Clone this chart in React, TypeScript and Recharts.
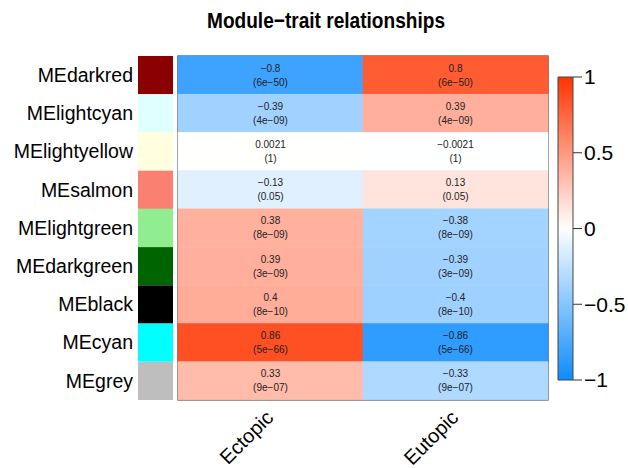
import { BarChart, Bar, XAxis, YAxis, ReferenceArea } from "recharts"

const modules = [
    "MEdarkred",
    "MElightcyan",
    "MElightyellow",
    "MEsalmon",
    "MElightgreen",
    "MEdarkgreen",
    "MEblack",
    "MEcyan",
    "MEgrey",
]
const moduleColors = [
    "#8B0000",
    "#E0FFFF",
    "#FFFFE0",
    "#FA8072",
    "#90EE90",
    "#006400",
    "#000000",
    "#00FFFF",
    "#BEBEBE",
]
const traits = ["Ectopic", "Eutopic"]
const ectopicCor = [-0.8, -0.39, 0.0021, -0.13, 0.38, 0.39, 0.4, 0.86, 0.33]
const eutopicCor = [0.8, 0.39, -0.0021, 0.13, -0.38, -0.39, -0.4, -0.86, -0.33]
const ectopicP = ["6e-50", "4e-09", "1", "0.05", "8e-09", "3e-09", "8e-10", "5e-66", "9e-07"]
const eutopicP = ["6e-50", "4e-09", "1", "0.05", "8e-09", "3e-09", "8e-10", "5e-66", "9e-07"]
const scaleTicks = [-1, -0.5, 0, 0.5, 1]

const corTable = [ectopicCor, eutopicCor]
const pTable = [ectopicP, eutopicP]

// one unit per cell, the two traits stacked side by side
const heatData = modules.map((m) => ({ module: m, Ectopic: 1, Eutopic: 1 }))
const scaleData = [{ name: "scale", range: [-1, 1] }]

const PLOT_TOP = 56
const PLOT_BOTTOM = 400
const ROW_H = (PLOT_BOTTOM - PLOT_TOP) / modules.length

const BLUE = [13, 140, 255]
const RED = [255, 51, 0]

// WGCNA blueWhiteRed style
function corColor(r: number) {
    const end = r < 0 ? BLUE : RED
    const t = Math.min(1, Math.abs(r))
    const c = end.map((v) => Math.round(255 + (v - 255) * t))
    return `rgb(${c[0]},${c[1]},${c[2]})`
}

const minus = (s: string) => s.replace(/-/g, "\u2212")

function cellShape(col: number) {
    return (props: any) => {
        const { x, y, width, height, index } = props
        const r = corTable[col][index]
        const cx = x + width / 2
        const cy = y + height / 2
        const fill = corColor(r)
        return (
            <g>
                <rect x={x} y={y} width={width} height={height} fill={fill} stroke={fill} strokeWidth={0.6} />
                <text x={cx} y={cy - 7} dy="0.35em" textAnchor="middle" fontSize={10} fill="#222">
                    {minus(String(r))}
                </text>
                <text x={cx} y={cy + 7} dy="0.35em" textAnchor="middle" fontSize={10} fill="#222">
                    ({minus(pTable[col][index])})
                </text>
            </g>
        )
    }
}

function ModuleTick(props: any) {
    const { x, y, payload, index } = props
    return (
        <g>
            <text x={x - 45} y={y} dy="0.35em" textAnchor="end" fontSize={19.5} fill="#000">
                {payload.value}
            </text>
            <rect x={x - 40} y={y - ROW_H / 2} width={35} height={ROW_H} fill={moduleColors[index]} />
        </g>
    )
}

function TraitTick(props: any) {
    const { x, y, payload } = props
    const px = x + 4
    const py = y + 19
    return (
        <text
            x={px}
            y={py}
            textAnchor="end"
            fontSize={20}
            fill="#000"
            transform={`rotate(-45 ${px} ${py})`}
        >
            {traits[Math.floor(payload.value)]}
        </text>
    )
}

export default function App() {
    return (
        <div
            style={{
                position: "absolute",
                left: 0,
                top: 0,
                width: 628,
                height: 468,
                background: "#fff",
                fontFamily: "'Liberation Sans', Arial, sans-serif",
            }}
        >
            <svg width={628} height={40} style={{ position: "absolute", left: 0, top: 0 }}>
                <text
                    x={207}
                    y={28}
                    fontSize={22.5}
                    fontWeight="bold"
                    fill="#000"
                    textLength={238}
                    lengthAdjust="spacingAndGlyphs"
                >
                    {"Module\u2212trait relationships"}
                </text>
            </svg>

            <div style={{ position: "absolute", left: 0, top: 0 }}>
                <BarChart
                    width={628}
                    height={468}
                    data={heatData}
                    layout="vertical"
                    barCategoryGap={0}
                    barGap={0}
                    margin={{ top: PLOT_TOP, right: 80, bottom: 8, left: 8 }}
                >
                    <XAxis
                        type="number"
                        domain={[0, 2]}
                        ticks={[0.5, 1.5]}
                        axisLine={false}
                        tickLine={false}
                        tickSize={0}
                        tickMargin={0}
                        height={60}
                        interval={0}
                        tick={<TraitTick />}
                    />
                    <YAxis
                        type="category"
                        dataKey="module"
                        width={170}
                        axisLine={false}
                        tickLine={false}
                        tickSize={0}
                        tickMargin={0}
                        interval={0}
                        tick={<ModuleTick />}
                    />
                    <Bar dataKey="Ectopic" stackId="h" isAnimationActive={false} shape={cellShape(0)} />
                    <Bar dataKey="Eutopic" stackId="h" isAnimationActive={false} shape={cellShape(1)} />
                    <ReferenceArea x1={0} x2={2} fill="none" stroke="#2b2b2b" strokeWidth={1.2} ifOverflow="visible" />
                </BarChart>
            </div>

            <div style={{ position: "absolute", left: 540, top: 60 }}>
                <BarChart
                    width={88}
                    height={340}
                    data={scaleData}
                    barCategoryGap={0}
                    margin={{ top: 17, right: 0, bottom: 20, left: 18 }}
                >
                    <defs>
                        <linearGradient id="cbGrad" x1="0" y1="0" x2="0" y2="1">
                            <stop offset="0%" stopColor="#FF3300" />
                            <stop offset="50%" stopColor="#FFFFFF" />
                            <stop offset="100%" stopColor="#0D8CFF" />
                        </linearGradient>
                    </defs>
                    <XAxis dataKey="name" hide />
                    <YAxis
                        orientation="right"
                        type="number"
                        domain={[-1, 1]}
                        ticks={scaleTicks}
                        width={55}
                        axisLine={false}
                        tickSize={9}
                        tickMargin={2}
                        tickLine={{ stroke: "#333" }}
                        tick={{ fontSize: 21, fill: "#000" }}
                        tickFormatter={(v: number) => minus(String(v))}
                    />
                    <Bar dataKey="range" fill="url(#cbGrad)" stroke="#444" strokeWidth={1} isAnimationActive={false} />
                </BarChart>
            </div>
        </div>
    )
}
